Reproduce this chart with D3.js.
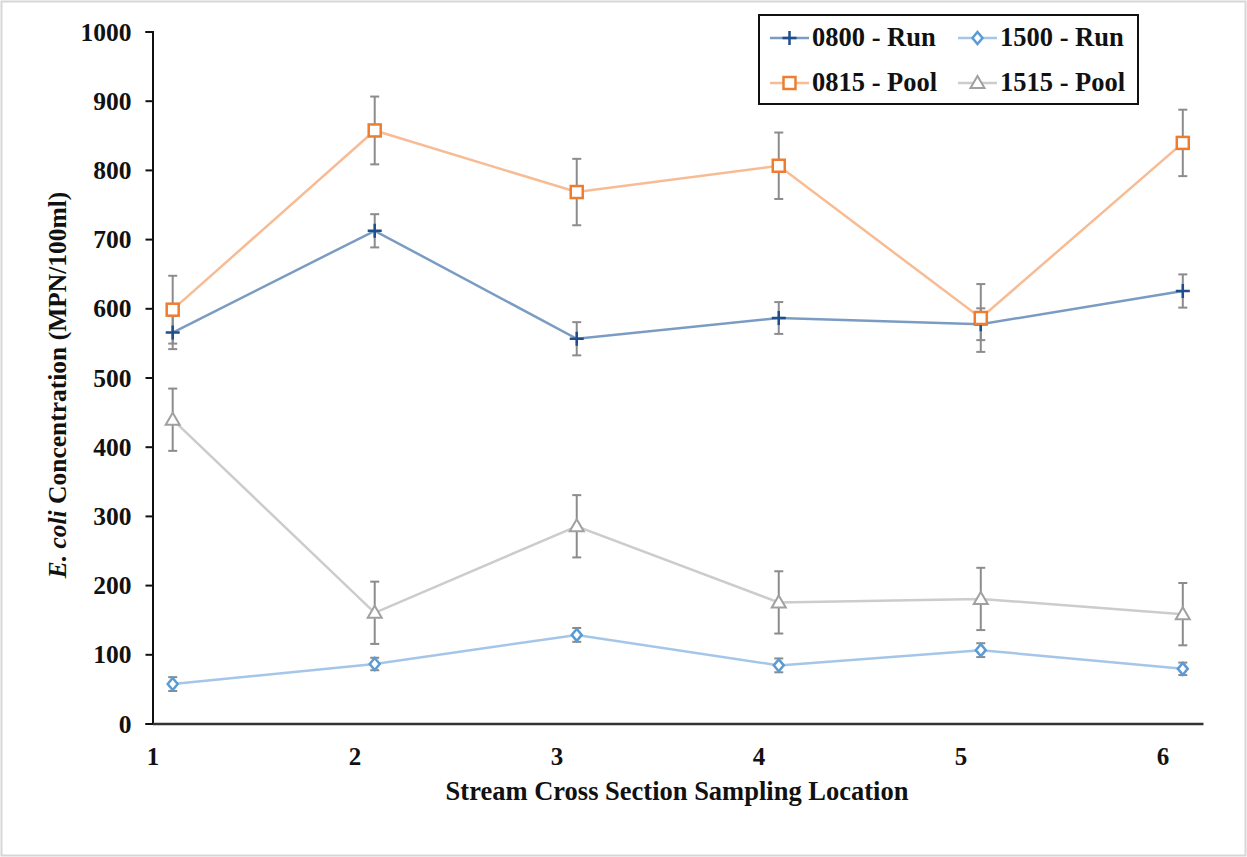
<!DOCTYPE html>
<html>
<head>
<meta charset="utf-8">
<script src="https://cdn.jsdelivr.net/npm/d3@7"></script>
<style>
    body { margin: 0; background: #fff; }
    #canvas { width: 1247px; height: 857px; }
    svg text { font-family: "Liberation Serif", "Times New Roman", serif !important; font-weight: bold; }
</style>
</head>
<body>
<div id="canvas"></div>
<script>
// Sampling locations and the values.
var locations = [1, 2, 3, 4, 5, 6];
var xTicks = [1, 2, 3, 4, 5, 6];
var yTicks = [0, 100, 200, 300, 400, 500, 600, 700, 800, 900, 1000];

var run0800 = [565, 712, 556, 586, 577, 625];
var run0800Err = [24, 24, 24, 23, 23, 24];
var pool0815 = [598, 857, 768, 806, 586, 839];
var pool0815Err = [49, 49, 48, 48, 49, 48];
var run1500 = [57, 86, 128, 84, 106, 79];
var run1500Err = [10, 9, 10, 10, 10, 9];
var pool1515 = [439, 160, 285, 175, 180, 158];
var pool1515Err = [45, 45, 45, 45, 45, 45];

// points sit a little to the right of each location label
var offset = 0.1;

var series = [
    { name: '0800 - Run', values: run0800, err: run0800Err, line: '#7b9cc2', mark: '#1f4e8c', shape: 'plus' },
    { name: '1500 - Run', values: run1500, err: run1500Err, line: '#a4c6e8', mark: '#5b9bd5', shape: 'diamond' },
    { name: '0815 - Pool', values: pool0815, err: pool0815Err, line: '#f7bc94', mark: '#ed7d31', shape: 'square' },
    { name: '1515 - Pool', values: pool1515, err: pool1515Err, line: '#cccccc', mark: '#a0a0a0', shape: 'triangle' }
];

var width = 1247, height = 857;
var svg = d3.select('#canvas').append('svg')
    .attr('width', width)
    .attr('height', height);

// light frame round the picture
svg.append('rect')
    .attr('x', 1.5).attr('y', 1.5)
    .attr('width', width - 3).attr('height', height - 3)
    .attr('fill', 'none')
    .attr('stroke', '#d6d6d6')
    .attr('stroke-width', 2);

var x = d3.scaleLinear().domain([1, 6.2]).range([152.5, 1203]);
var y = d3.scaleLinear().domain([0, 1000]).range([723.5, 31.5]);

// y axis
var yAxis = svg.append('g')
    .attr('transform', 'translate(' + x(1) + ',0)')
    .call(d3.axisLeft(y).tickValues(yTicks).tickFormat(d3.format('d')).tickSize(7).tickPadding(14));
yAxis.select('.domain').attr('stroke', '#111').attr('stroke-width', 2);
yAxis.selectAll('.tick line').attr('stroke', '#111').attr('stroke-width', 2);
yAxis.selectAll('.tick text')
    .attr('fill', '#111')
    .attr('dy', '0.34em')
    .style('font-size', '25.5px');

// x axis, labels only
var xAxis = svg.append('g')
    .attr('transform', 'translate(0,' + y(0) + ')')
    .call(d3.axisBottom(x).tickValues(xTicks).tickFormat(d3.format('d')).tickSize(0).tickPadding(24).tickSizeOuter(0));
xAxis.select('.domain').attr('stroke', '#333').attr('stroke-width', 2.5);
xAxis.selectAll('.tick text')
    .attr('fill', '#111')
    .style('font-size', '25px');

// axis titles
svg.append('text')
    .attr('x', 677).attr('y', 800)
    .attr('text-anchor', 'middle')
    .attr('fill', '#111')
    .style('font-size', '26.5px')
    .text('Stream Cross Section Sampling Location');

var yTitle = svg.append('text')
    .attr('transform', 'translate(66,385) rotate(-90)')
    .attr('text-anchor', 'middle')
    .attr('fill', '#111')
    .style('font-size', '25.5px');
yTitle.append('tspan').style('font-style', 'italic').text('E. coli');
yTitle.append('tspan').text(' Concentration (MPN/100ml)');

// marker drawing
var drawMarker = function(g, s, cx, cy) {
    if (s.shape === 'plus') {
        g.append('path')
            .attr('d', 'M' + (cx - 7) + ',' + cy + 'H' + (cx + 7) + 'M' + cx + ',' + (cy - 7) + 'V' + (cy + 7))
            .attr('stroke', s.mark).attr('stroke-width', 2.5).attr('fill', 'none');
    } else if (s.shape === 'square') {
        g.append('rect')
            .attr('x', cx - 6).attr('y', cy - 6).attr('width', 12).attr('height', 12)
            .attr('fill', '#fff').attr('stroke', s.mark).attr('stroke-width', 2.5);
    } else if (s.shape === 'diamond') {
        g.append('path')
            .attr('d', 'M' + cx + ',' + (cy - 6) + 'L' + (cx + 5) + ',' + cy + 'L' + cx + ',' + (cy + 6) + 'L' + (cx - 5) + ',' + cy + 'Z')
            .attr('fill', '#fff').attr('stroke', s.mark).attr('stroke-width', 2.5);
    } else {
        g.append('path')
            .attr('d', 'M' + cx + ',' + (cy - 7) + 'L' + (cx + 7) + ',' + (cy + 5) + 'L' + (cx - 7) + ',' + (cy + 5) + 'Z')
            .attr('fill', '#fff').attr('stroke', s.mark).attr('stroke-width', 2);
    }
};

var line = d3.line()
    .x(function(d, i) { return x(locations[i] + offset); })
    .y(function(d) { return y(d); });

// lines first, then error bars, then markers
series.forEach(function(s) {
    svg.append('path')
        .datum(s.values)
        .attr('d', line)
        .attr('fill', 'none')
        .attr('stroke', s.line)
        .attr('stroke-width', 2.5);
});

series.forEach(function(s) {
    var g = svg.append('g').attr('stroke', '#8c8c8c').attr('stroke-width', 2);
    s.values.forEach(function(v, i) {
        var cx = x(locations[i] + offset);
        var top = y(v + s.err[i]), bot = y(v - s.err[i]);
        g.append('line').attr('x1', cx).attr('x2', cx).attr('y1', top).attr('y2', bot);
        g.append('line').attr('x1', cx - 4.5).attr('x2', cx + 4.5).attr('y1', top).attr('y2', top);
        g.append('line').attr('x1', cx - 4.5).attr('x2', cx + 4.5).attr('y1', bot).attr('y2', bot);
    });
});

series.forEach(function(s) {
    var g = svg.append('g');
    s.values.forEach(function(v, i) {
        drawMarker(g, s, x(locations[i] + offset), y(v));
    });
});

// legend
var legend = svg.append('g');
legend.append('rect')
    .attr('x', 759).attr('y', 15).attr('width', 379).attr('height', 89)
    .attr('fill', '#fff').attr('stroke', '#111').attr('stroke-width', 2);

var legendPos = [[770, 38], [958, 38], [770, 83], [958, 83]];
series.forEach(function(s, i) {
    var lx = legendPos[i][0], ly = legendPos[i][1];
    legend.append('line')
        .attr('x1', lx).attr('x2', lx + 39).attr('y1', ly).attr('y2', ly)
        .attr('stroke', s.line).attr('stroke-width', 2.5);
    drawMarker(legend, s, lx + 19.5, ly);
    legend.append('text')
        .attr('x', lx + 42).attr('y', ly + 8)
        .attr('fill', '#111')
        .style('font-size', '26.5px')
        .text(s.name);
});
</script>
</body>
</html>
